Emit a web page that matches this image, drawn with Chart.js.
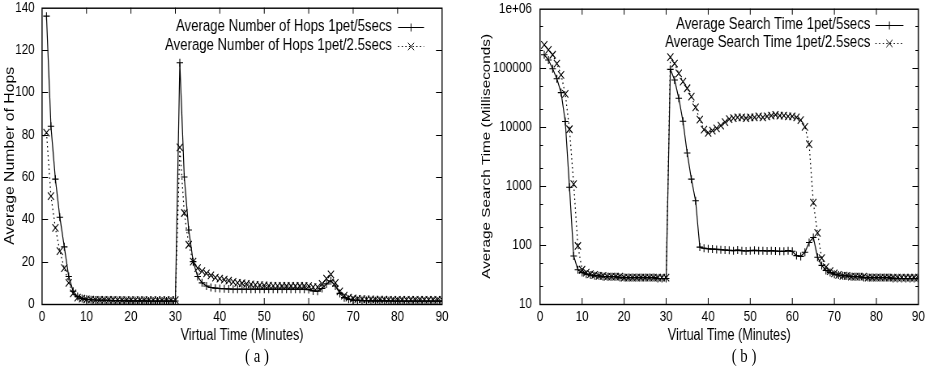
<!DOCTYPE html>
<html>
<head>
<meta charset="utf-8">
<script src="https://cdn.jsdelivr.net/npm/chart.js@4.4.1/dist/chart.umd.min.js"></script>
<style>
  body { margin: 0; background: #fff; width: 928px; height: 369px; overflow: hidden; position: relative; }
  /* the original figure is squeezed horizontally, so draw wide and squeeze the canvas */
  canvas { position: absolute; top: -10px; transform-origin: 0 0; transform: scaleX(0.81); }
  #chartA { left: 0; }
  #chartB { left: 460px; }
  .sub { position: absolute; top: 345px; font-family: "Liberation Serif", serif; font-size: 19px; color: #000; transform: translateX(-50%) scaleX(0.78); }
</style>
</head>
<body>
<canvas id="chartA" width="562" height="379"></canvas>
<canvas id="chartB" width="578" height="379"></canvas>
<div class="sub" style="left:257px">( a )</div>
<div class="sub" style="left:744px">( b )</div>
<script>
// x positions (virtual minutes)
const minutes = [
  1, 2, 3, 4, 5, 6, 7, 8, 9, 10, 11, 12, 13, 14, 15, 16, 17, 18, 19, 20,
  21, 22, 23, 24, 25, 26, 27, 28, 29, 30, 31, 32, 33, 34, 35, 36, 37, 38, 39, 40,
  41, 42, 43, 44, 45, 46, 47, 48, 49, 50, 51, 52, 53, 54, 55, 56, 57, 58, 59, 60,
  61, 62, 63, 64, 65, 66, 67, 68, 69, 70, 71, 72, 73, 74, 75, 76, 77, 78, 79, 80,
  81, 82, 83, 84, 85, 86, 87, 88, 89, 90
];

// (a) average number of hops
const hops5 = [
  136, 84, 59, 41, 27, 13, 6, 3.5, 2.6, 2.2,
  2, 1.9, 1.8, 1.7, 1.7, 1.6, 1.6, 1.6, 1.5, 1.5,
  1.5, 1.5, 1.5, 1.4, 1.4, 1.4, 1.4, 1.4, 1.4, 1.4,
  114, 60, 35, 20, 13, 10, 8.5, 7.8, 7.5, 7.3,
  7.2, 7.1, 7, 7, 7, 7, 7, 7, 7, 7,
  7, 7, 7, 7, 7, 7, 7, 7, 7, 6.8,
  6.2, 6, 7.3, 9.5, 11, 8.5, 5, 3, 2.2, 1.8,
  1.7, 1.6, 1.6, 1.5, 1.5, 1.5, 1.5, 1.5, 1.4, 1.4,
  1.4, 1.4, 1.4, 1.4, 1.4, 1.4, 1.4, 1.4, 1.4, 1.4
];
const hops25 = [
  81, 51, 36, 25, 17, 10, 5, 3, 2.5, 2.2,
  2.1, 2, 2, 1.9, 1.9, 1.9, 1.8, 1.8, 1.8, 1.8,
  1.8, 1.8, 1.8, 1.8, 1.8, 1.8, 1.8, 1.8, 1.8, 1.8,
  74, 43, 28, 20, 17, 15.5, 14.5, 13.5, 12.5, 12,
  11.5, 11, 10.5, 10, 9.8, 9.5, 9.3, 9, 8.9, 8.8,
  8.7, 8.6, 8.6, 8.5, 8.5, 8.5, 8.5, 8.5, 8.5, 8.4,
  8, 8, 9.5, 12, 14, 10, 6, 4, 3, 2.6,
  2.4, 2.3, 2.2, 2.2, 2.1, 2.1, 2.1, 2, 2, 2,
  2, 2, 2, 2, 2, 2, 2, 2, 2, 2
];

// (b) average search time, ms
const search5 = [
  166000, 135000, 96000, 65000, 38000, 12300, 950, 65, 38, 34,
  32, 31, 30, 30, 29, 29, 29, 29, 28, 28,
  28, 28, 28, 28, 28, 28, 28, 27, 27, 27,
  94000, 62000, 30500, 12400, 3600, 1300, 560, 92, 88, 86,
  85, 84, 83, 82, 81, 80, 82, 80, 79, 80,
  81, 80, 80, 79, 80, 79, 78, 78, 80, 78,
  66, 64, 75, 110, 134, 62, 45, 37, 34, 32,
  31, 30, 30, 29, 29, 29, 28, 28, 28, 28,
  28, 28, 28, 27, 27, 27, 27, 27, 27, 27
];
const search25 = [
  245000, 200000, 166000, 117000, 76000, 36000, 9100, 1070, 96, 38,
  34, 32, 31, 30, 30, 29, 29, 29, 29, 28,
  28, 28, 28, 28, 28, 28, 28, 28, 28, 28,
  152000, 118000, 80000, 58000, 45000, 32500, 21300, 13200, 9000, 7900,
  8600, 9400, 10500, 12000, 13500, 14000, 14500, 14500, 14000, 14500,
  14500, 15000, 14500, 15000, 15500, 16000, 15500, 15500, 15000, 15000,
  14500, 13000, 10000, 5100, 520, 160, 60, 42, 36, 33,
  31, 30, 30, 29, 29, 29, 29, 28, 28, 28,
  28, 28, 28, 28, 28, 28, 28, 28, 28, 28
];

const xTicks = [0, 10, 20, 30, 40, 50, 60, 70, 80, 90];
const hopsTicks = [0, 20, 40, 60, 80, 100, 120, 140];
const searchTicks = [10, 100, 1000, 10000, 100000, 1000000];
const searchTickLabels = ['10', '100', '1000', '10000', '100000', '1e+06'];
const searchMinor = [20, 50, 200, 500, 2000, 5000, 20000, 50000, 200000, 500000];

const SQ = 0.81; // horizontal squeeze of the canvases (see css)
const FONT = '"Liberation Sans", Arial, sans-serif';
Chart.defaults.color = '#000';
Chart.defaults.animation = false;

const pts = ys => minutes.map((m, i) => ({ x: m, y: ys[i] }));

// box + inward ticks like gnuplot
const frame = {
  id: 'frame',
  afterDatasetsDraw(chart, args, opts) {
    const { ctx, chartArea: a, scales: { x, y } } = chart;
    const h = 6 / SQ; // horizontal tick length in canvas units
    ctx.save();
    ctx.strokeStyle = '#000';
    ctx.lineWidth = 1;
    ctx.beginPath();
    const tick = (px, py, dx, dy) => { ctx.moveTo(px, py); ctx.lineTo(px + dx, py + dy); };
    xTicks.slice(1, -1).forEach(v => {
      const p = x.getPixelForValue(v);
      tick(p, a.bottom, 0, -6);
      tick(p, a.top, 0, 6);
    });
    opts.yMajor.forEach(v => {
      const p = Math.round(y.getPixelForValue(v)) + 0.5;
      tick(a.left, p, h, 0);
      tick(a.right, p, -h, 0);
    });
    (opts.yMinor || []).forEach(v => {
      const p = Math.round(y.getPixelForValue(v)) + 0.5;
      tick(a.left, p, h / 2, 0);
      tick(a.right, p, -h / 2, 0);
    });
    ctx.stroke();
    ctx.lineWidth = 1.4;
    ctx.strokeRect(a.left, a.top + 0.5, a.right - a.left, a.bottom - a.top);
    ctx.restore();
  }
};

// key inside the plot: text, then sample line with marker (offsets in page px)
const key = {
  id: 'key',
  afterDraw(chart, args, opts) {
    const { ctx, chartArea: a } = chart;
    ctx.save();
    ctx.font = '16.3px ' + FONT;
    ctx.fillStyle = '#000';
    ctx.textAlign = 'right';
    ctx.textBaseline = 'middle';
    chart.data.datasets.forEach((ds, i) => {
      const yy = opts.rows[i];
      ctx.fillText(ds.label, a.right - opts.textRight / SQ, yy);
      const x0 = a.right - opts.lineFrom / SQ, x1 = a.right - opts.lineTo / SQ;
      ctx.strokeStyle = '#000';
      ctx.lineWidth = 1.2;
      ctx.setLineDash(ds.borderDash || []);
      ctx.beginPath();
      ctx.moveTo(x0, yy + 0.5);
      ctx.lineTo(x1, yy + 0.5);
      ctx.stroke();
      ctx.setLineDash([]);
      ctx.lineWidth = 1;
      Chart.helpers.drawPoint(ctx, { pointStyle: ds.pointStyle, radius: ds.pointRadius, rotation: 0, borderWidth: 1 }, (x0 + x1) / 2, yy + 0.5);
    });
    ctx.restore();
  }
};

function series(label, ys, dotted) {
  return {
    label: label,
    data: pts(ys),
    borderColor: '#000',
    borderWidth: 1.2,
    borderDash: dotted ? [1.5, 3] : [],
    pointStyle: dotted ? 'crossRot' : 'cross',
    pointRadius: dotted ? 5.3 : 4,
    pointBorderColor: '#000',
    pointBorderWidth: 1.1,
    tension: 0,
    fill: false
  };
}

function xScale() {
  return {
    type: 'linear', min: 0, max: 90,
    afterBuildTicks: s => { s.ticks = xTicks.map(v => ({ value: v })); },
    afterFit: s => { s.height = 65; },
    ticks: { font: { family: FONT, size: 14.5 }, padding: 4, maxRotation: 0, autoSkip: false },
    grid: { display: false, drawTicks: false },
    border: { display: false },
    title: { display: true, text: 'Virtual Time (Minutes)', font: { family: FONT, size: 15.6 }, padding: { top: 0, bottom: 24 } }
  };
}

new Chart(document.getElementById('chartA'), {
  type: 'line',
  data: {
    datasets: [
      series('Average Number of Hops 1pet/5secs', hops5, false),
      series('Average Number of Hops 1pet/2.5secs', hops25, true)
    ]
  },
  options: {
    responsive: false,
    layout: { padding: { top: 14, right: 16.3, bottom: 0, left: 0 } },
    scales: {
      x: xScale(),
      y: {
        min: 0, max: 140,
        afterBuildTicks: s => { s.ticks = hopsTicks.map(v => ({ value: v })); },
        afterFit: s => { s.width = 51.9; },
        ticks: { font: { family: FONT, size: 14.5 }, padding: 9 },
        grid: { display: false, drawTicks: false },
        border: { display: false },
        title: { display: true, text: 'Average Number of Hops', font: { family: FONT, size: 15.8 }, padding: { top: 3, bottom: 0 } }
      }
    },
    plugins: {
      legend: { display: false },
      tooltip: { enabled: false },
      frame: { yMajor: hopsTicks.slice(1, -1) },
      key: { rows: [37, 56], textRight: 50, lineFrom: 44, lineTo: 18 }
    }
  },
  plugins: [frame, key]
});

new Chart(document.getElementById('chartB'), {
  type: 'line',
  data: {
    datasets: [
      series('Average Search Time 1pet/5secs', search5, false),
      series('Average Search Time 1pet/2.5secs', search25, true)
    ]
  },
  options: {
    responsive: false,
    layout: { padding: { top: 18, right: 10.1, bottom: 0, left: 0 } },
    scales: {
      x: xScale(),
      y: {
        type: 'logarithmic', min: 10, max: 1000000,
        afterBuildTicks: s => { s.ticks = searchTicks.map(v => ({ value: v })); },
        afterFit: s => { s.width = 98.8; },
        ticks: { font: { family: FONT, size: 14.5 }, padding: 10, callback: v => searchTickLabels[searchTicks.indexOf(v)] },
        grid: { display: false, drawTicks: false },
        border: { display: false },
        title: { display: true, text: 'Average Search Time (Milliseconds)', font: { family: FONT, size: 15.3 }, padding: { top: 24, bottom: 0 } }
      }
    },
    plugins: {
      legend: { display: false },
      tooltip: { enabled: false },
      frame: { yMajor: searchTicks.slice(1, -1), yMinor: searchMinor },
      key: { rows: [35, 53], textRight: 48, lineFrom: 43, lineTo: 15 }
    }
  },
  plugins: [frame, key]
});
</script>
</body>
</html>
